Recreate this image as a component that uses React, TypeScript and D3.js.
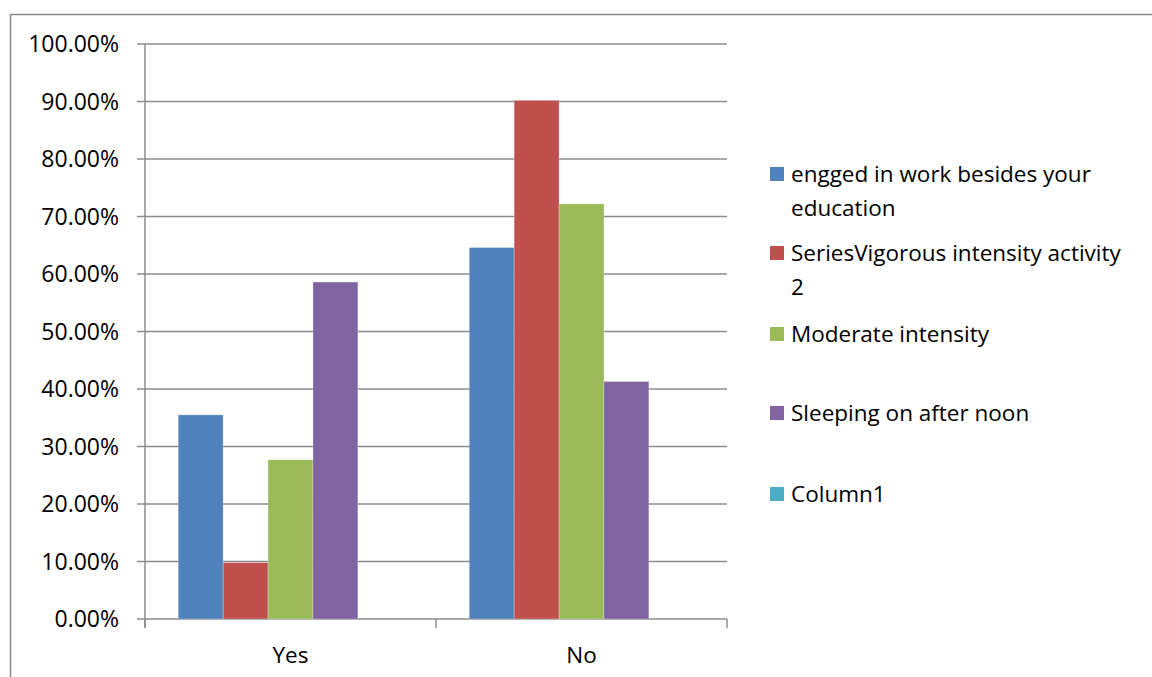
import { useRef, useEffect } from 'react'
import * as d3 from 'd3'

const categories = ['Yes', 'No']
const seriesNames = [
  'engged in work besides your education',
  'SeriesVigorous intensity activity 2',
  'Moderate intensity',
  'Sleeping on after noon',
  'Column1',
]
// legend text as it wraps in the reference
const legendLines = [
  ['engged in work besides your', 'education'],
  ['SeriesVigorous intensity activity', '2'],
  ['Moderate intensity'],
  ['Sleeping on after noon'],
  ['Column1'],
]
const engaged = [0.355, 0.646]
const vigorous = [0.098, 0.902]
const moderate = [0.277, 0.722]
const sleeping = [0.586, 0.413]
const column1 = [0, 0]
const yTicks = [0, 0.1, 0.2, 0.3, 0.4, 0.5, 0.6, 0.7, 0.8, 0.9, 1.0]

const COLORS = ['#4f81bd', '#c0504d', '#9bbb59', '#8064a2', '#4bacc6']
const FONT = '"Open Sans", sans-serif'

export default function App() {
  const svgRef = useRef<SVGSVGElement>(null)

  useEffect(() => {
    if (!svgRef.current) return
    const svg = d3.select(svgRef.current)
    svg.selectAll('*').remove()

    const W = 1152
    const H = 677
    svg.attr('width', W).attr('height', H)

    // chart border (runs off the right/bottom edge)
    svg.append('rect')
      .attr('x', 10.5).attr('y', 14.5)
      .attr('width', W + 20).attr('height', H + 20)
      .attr('fill', 'white')
      .attr('stroke', '#8a8a8a')
      .attr('stroke-width', 1.5)

    const left = 145
    const right = 727
    const top = 44
    const bottom = 619

    const series = [engaged, vigorous, moderate, sleeping, column1]

    const x0 = d3.scaleBand<string>().domain(categories).range([left, right]).padding(0)
    const x1 = d3.scaleBand<number>()
      .domain(d3.range(series.length))
      .range([0, x0.bandwidth()])
      .paddingInner(0)
      .paddingOuter(0.74)
    const y = d3.scaleLinear().domain([0, 1]).range([bottom, top])

    // gridlines
    svg.append('g')
      .selectAll('line')
      .data(yTicks)
      .join('line')
      .attr('x1', left - 8)
      .attr('x2', right)
      .attr('y1', (d) => y(d))
      .attr('y2', (d) => y(d))
      .attr('stroke', '#8c8c8c')
      .attr('stroke-width', 1.5)

    // y tick labels
    svg.append('g')
      .selectAll('text')
      .data(yTicks)
      .join('text')
      .attr('x', 119)
      .attr('y', (d) => y(d))
      .attr('dy', '0.36em')
      .attr('text-anchor', 'end')
      .attr('font-family', FONT)
      .attr('font-size', 23)
      .attr('fill', '#000')
      .text((d) => (d * 100).toFixed(2) + '%')

    // bars
    const groups = svg.append('g')
      .selectAll('g')
      .data(categories)
      .join('g')
      .attr('transform', (d) => `translate(${x0(d)},0)`)

    groups.selectAll('rect')
      .data((_, ci) => series.map((s, si) => ({ si, v: s[ci] })))
      .join('rect')
      .attr('x', (d) => x1(d.si)!)
      .attr('width', x1.bandwidth())
      .attr('y', (d) => y(d.v))
      .attr('height', (d) => y(0) - y(d.v))
      .attr('fill', (d) => COLORS[d.si])
      .attr('stroke', 'rgba(255,255,255,0.35)')
      .attr('stroke-width', 0.75)

    // y axis line
    svg.append('line')
      .attr('x1', left).attr('x2', left)
      .attr('y1', top).attr('y2', bottom + 9)
      .attr('stroke', '#8c8c8c').attr('stroke-width', 1.5)

    // x category ticks
    const xTickPos = [left, ...categories.map((c) => x0(c)! + x0.bandwidth())]
    svg.append('g')
      .selectAll('line')
      .data(xTickPos)
      .join('line')
      .attr('x1', (d) => d).attr('x2', (d) => d)
      .attr('y1', bottom).attr('y2', bottom + 9)
      .attr('stroke', '#8c8c8c').attr('stroke-width', 1.5)

    // x labels
    svg.append('g')
      .selectAll('text')
      .data(categories)
      .join('text')
      .attr('x', (d) => x0(d)! + x0.bandwidth() / 2)
      .attr('y', 663)
      .attr('text-anchor', 'middle')
      .attr('font-family', FONT)
      .attr('font-size', 22.5)
      .attr('fill', '#000')
      .text((d) => d)

    // legend
    const legendY = [174, 253, 334, 413, 494]
    const legend = svg.append('g')
      .selectAll('g')
      .data(seriesNames)
      .join('g')
      .attr('transform', (_, i) => `translate(770,${legendY[i]})`)

    legend.append('rect')
      .attr('x', 0).attr('y', -7)
      .attr('width', 14).attr('height', 14)
      .attr('fill', (_, i) => COLORS[i])

    legend.append('text')
      .attr('font-family', FONT)
      .attr('font-size', 22.5)
      .attr('fill', '#000')
      .selectAll('tspan')
      .data((_, i) => legendLines[i])
      .join('tspan')
      .attr('x', 21)
      .attr('y', (_, j) => j * 34)
      .attr('dy', '0.36em')
      .text((d) => d)
  }, [])

  return (
    <div style={{ position: 'fixed', left: 0, top: 0, background: 'white' }}>
      <svg ref={svgRef} style={{ display: 'block' }} />
    </div>
  )
}
